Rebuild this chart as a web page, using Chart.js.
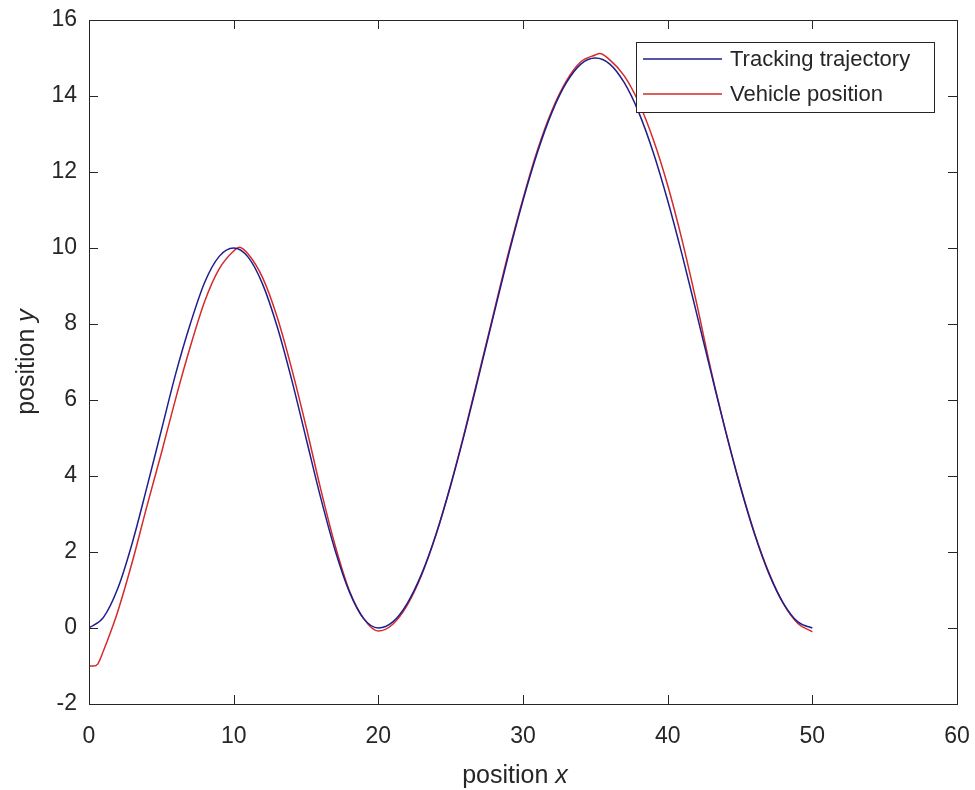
<!DOCTYPE html>
<html lang="en">
<head>
  <meta charset="UTF-8">
  <title>Tracking trajectory vs vehicle position</title>
  <style>
    html, body { margin: 0; padding: 0; background: #fff; }
  </style>
</head>
<body>
  <script src="https://cdn.jsdelivr.net/npm/chart.js"></script>

  <canvas id="trackChart" width="975" height="790"></canvas>
  <script>
    // reference path (blue)
    const trackX = [0, 1, 2, 3, 4, 5, 6, 7, 8, 9, 10, 11, 12, 13, 14, 15, 16, 17, 18, 19, 20,
      21, 22, 23, 24, 25, 26, 27, 28, 29, 30, 31, 32, 33, 34, 35, 36, 37, 38, 39, 40,
      41, 42, 43, 44, 45, 46, 47, 48, 49, 50];
    const trackY = [0, 0.28, 1.05, 2.25, 3.7, 5.2, 6.7, 8.0, 9.1, 9.78, 10, 9.76, 9.05, 7.94, 6.55, 5, 3.45, 2.06, 0.95, 0.24, 0,
      0.16, 0.65, 1.43, 2.48, 3.75, 5.18, 6.72, 8.28, 9.82, 11.25, 12.52, 13.57, 14.35, 14.84, 15, 14.84, 14.35, 13.57, 12.52, 11.25,
      9.82, 8.28, 6.72, 5.18, 3.75, 2.48, 1.43, 0.65, 0.16, 0];

    // vehicle (red)
    const vehicleX = [0, 0.3, 0.6, 1, 1.5, 2, 3, 4, 5, 6, 7, 8, 9, 10, 10.4, 11, 12, 13, 14, 15, 16, 17, 18, 19, 20,
      21, 22, 23, 24, 25, 26, 27, 28, 29, 30, 31, 32, 33, 34, 35, 35.3, 36, 37, 38, 39, 40,
      41, 42, 43, 44, 45, 46, 47, 48, 49, 50];
    const vehicleY = [-1, -1, -0.95, -0.6, -0.1, 0.45, 1.75, 3.2, 4.6, 6.05, 7.4, 8.6, 9.45, 9.92, 10.02, 9.84, 9.22, 8.19, 6.84, 5.31, 3.68, 2.19, 0.98, 0.24, -0.08,
      0.1, 0.6, 1.4, 2.47, 3.77, 5.22, 6.77, 8.33, 9.88, 11.3, 12.58, 13.62, 14.4, 14.9, 15.08, 15.12, 14.95, 14.53, 13.83, 12.86, 11.65,
      10.2, 8.55, 6.78, 5.2, 3.77, 2.5, 1.45, 0.64, 0.12, -0.1];

    const xTicks = [0, 10, 20, 30, 40, 50, 60];
    const yTicks = [-2, 0, 2, 4, 6, 8, 10, 12, 14, 16];
    const seriesNames = ['Tracking trajectory', 'Vehicle position'];
    const seriesColors = ['#1e1e8c', '#d42a2a'];

    const FONT = "'Liberation Sans', Arial, sans-serif";
    const INK = '#262626';

    // matlab-ish box, inward ticks, axis labels and legend
    const matlabAxes = {
      id: 'matlabAxes',
      afterDraw(chart) {
        const { ctx, chartArea: a, scales: { x, y } } = chart;
        ctx.save();
        ctx.strokeStyle = INK;
        ctx.lineWidth = 1;
        ctx.strokeRect(Math.round(a.left) + 0.5, Math.round(a.top) + 0.5,
          Math.round(a.right - a.left), Math.round(a.bottom - a.top));

        const tl = 9;
        ctx.beginPath();
        xTicks.forEach(v => {
          const px = Math.round(x.getPixelForValue(v)) + 0.5;
          ctx.moveTo(px, a.bottom); ctx.lineTo(px, a.bottom - tl);
          ctx.moveTo(px, a.top); ctx.lineTo(px, a.top + tl);
        });
        yTicks.forEach(v => {
          const py = Math.round(y.getPixelForValue(v)) + 0.5;
          ctx.moveTo(a.left, py); ctx.lineTo(a.left + tl, py);
          ctx.moveTo(a.right, py); ctx.lineTo(a.right - tl, py);
        });
        ctx.stroke();

        // axis titles, italic variable name
        ctx.fillStyle = INK;
        ctx.textBaseline = 'alphabetic';
        const drawTitle = (word, v, cx, cy) => {
          ctx.font = `25px ${FONT}`;
          const w1 = ctx.measureText(word).width;
          ctx.font = `italic 25px ${FONT}`;
          const w2 = ctx.measureText(v).width;
          let sx = cx - (w1 + w2) / 2;
          ctx.font = `25px ${FONT}`;
          ctx.fillText(word, sx, cy);
          ctx.font = `italic 25px ${FONT}`;
          ctx.fillText(v, sx + w1, cy);
        };
        drawTitle('position ', 'x', (a.left + a.right) / 2 - 8, 783);
        ctx.save();
        ctx.translate(34, (a.top + a.bottom) / 2);
        ctx.rotate(-Math.PI / 2);
        drawTitle('position ', 'y', 0, 0);
        ctx.restore();

        // legend
        const lx = 636, ly = 42, lw = 298, lh = 70;
        ctx.fillStyle = '#fff';
        ctx.fillRect(lx, ly, lw, lh);
        ctx.strokeStyle = INK;
        ctx.strokeRect(lx + 0.5, ly + 0.5, lw, lh);
        ctx.font = `22px ${FONT}`;
        ctx.textBaseline = 'middle';
        chart.data.datasets.forEach((ds, i) => {
          const yy = ly + 17 + i * 35;
          ctx.strokeStyle = ds.borderColor;
          ctx.lineWidth = 1.5;
          ctx.beginPath();
          ctx.moveTo(lx + 7, yy); ctx.lineTo(lx + 86, yy);
          ctx.stroke();
          ctx.fillStyle = INK;
          ctx.fillText(ds.label, lx + 94, yy + 1);
        });
        ctx.restore();
      }
    };

    const ctx = document.getElementById('trackChart').getContext('2d');
    const trackChart = new Chart(ctx, {
      type: 'line',
      data: {
        datasets: [{
          label: seriesNames[0],
          data: trackX.map((v, i) => ({ x: v, y: trackY[i] })),
          borderColor: seriesColors[0],
          borderWidth: 1.5,
          pointRadius: 0,
          cubicInterpolationMode: 'monotone',
          fill: false
        }, {
          label: seriesNames[1],
          data: vehicleX.map((v, i) => ({ x: v, y: vehicleY[i] })),
          borderColor: seriesColors[1],
          borderWidth: 1.5,
          pointRadius: 0,
          cubicInterpolationMode: 'monotone',
          fill: false
        }]
      },
      options: {
        responsive: false,
        animation: false,
        layout: { padding: { left: 0, right: 18, top: 20, bottom: 0 } },
        plugins: { legend: { display: false }, tooltip: { enabled: false } },
        scales: {
          x: {
            type: 'linear',
            min: 0,
            max: 60,
            afterBuildTicks: s => { s.ticks = xTicks.map(v => ({ value: v })); },
            afterFit: s => { s.height = 86; s.paddingLeft = 0; s.paddingRight = 0; },
            grid: { display: false, drawTicks: false },
            border: { display: false },
            ticks: { padding: 19, color: INK, font: { family: FONT, size: 23 }, maxRotation: 0 }
          },
          y: {
            type: 'linear',
            min: -2,
            max: 16,
            afterBuildTicks: s => { s.ticks = yTicks.map(v => ({ value: v })); },
            afterFit: s => { s.width = 89; s.paddingTop = 0; s.paddingBottom = 0; },
            grid: { display: false, drawTicks: false },
            border: { display: false },
            ticks: { padding: 12, color: INK, font: { family: FONT, size: 23 } }
          }
        }
      },
      plugins: [matlabAxes]
    });
  </script>
</body>
</html>
